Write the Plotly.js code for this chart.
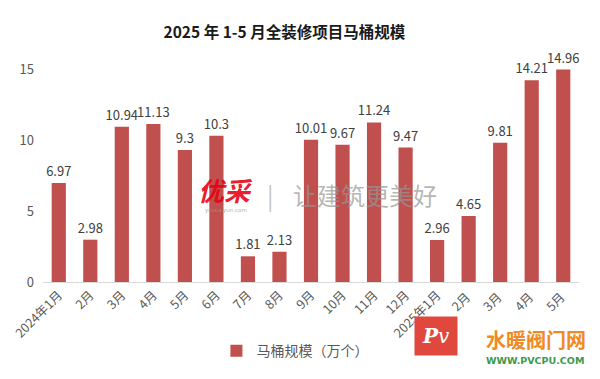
<!DOCTYPE html>
<html>
<head>
<meta charset="utf-8">
<script src="https://cdn.plot.ly/plotly-3.0.1.min.js"></script>
<style>html,body{margin:0;padding:0;background:#fff}#chart{width:600px;height:379px}</style>
</head>
<body>
<div id="chart"></div>
<script>
const categories = ["2024年1月","2月","3月","4月","5月","6月","7月","8月","9月","10月","11月","12月","2025年1月","2月 ","3月 ","4月 ","5月 "];
const values = [6.97, 2.98, 10.94, 11.13, 9.3, 10.3, 1.81, 2.13, 10.01, 9.67, 11.24, 9.47, 2.96, 4.65, 9.81, 14.21, 14.96];
const labels = ["6.97","2.98","10.94","11.13","9.3","10.3","1.81","2.13","10.01","9.67","11.24","9.47","2.96","4.65","9.81","14.21","14.96"];
const seriesName = "马桶规模（万个）";
const yTicks = [0, 5, 10, 15];

const font = '"Noto Sans CJK SC", "Open Sans", sans-serif';
const trace = {
  type: 'bar',
  x: categories,
  y: values,
  name: seriesName,
  text: labels,
  textposition: 'outside',
  constraintext: 'none',
  textfont: {family: font, size: 13, color: '#404040'},
  cliponaxis: false,
  marker: {color: '#c0504d'},
  hoverinfo: 'none'
};
const layout = {
  width: 600, height: 379,
  margin: {l: 43, r: 21, t: 69, b: 94},
  paper_bgcolor: '#fff', plot_bgcolor: '#fff',
  bargap: 0.55,
  title: {text: '2025 年 1-5 月全装修项目马桶规模', x: 0.474, xanchor: 'center', y: 0.913, yanchor: 'middle',
          font: {family: font, size: 15.5, color: '#1a1a1a', weight: 'bold'}},
  xaxis: {type: 'category', tickangle: -45, tickfont: {family: font, size: 12.5, color: '#595959'},
          showgrid: false, showline: true, linecolor: '#d9d9d9', linewidth: 1, ticks: '', fixedrange: true},
  yaxis: {range: [0, 15], tickvals: yTicks, tickfont: {family: font, size: 13, color: '#595959'},
          showgrid: false, zeroline: false, showline: false, ticks: '', ticklabelstandoff: 8, fixedrange: true},
  showlegend: true,
  legend: {orientation: 'h', x: 0.47, xanchor: 'center', y: -0.25, yanchor: 'top', bgcolor: 'rgba(0,0,0,0)',
           font: {family: font, size: 14, color: '#595959'}, itemwidth: 30},
  annotations: [
    {xref: 'paper', yref: 'paper', x: 0.341, y: 0.435, text: '<b><i>优采</i></b>', showarrow: false,
     font: {family: font, size: 26, color: 'rgba(230,0,18,0.9)'}},
    {xref: 'paper', yref: 'paper', x: 0.341, y: 0.31, text: 'youcaiyun.com', showarrow: false,
     font: {family: 'DejaVu Sans, sans-serif', size: 5.5, color: 'rgba(150,150,150,0.8)'}},
    {xref: 'paper', yref: 'paper', x: 0.424, y: 0.41, text: '|', showarrow: false,
     font: {family: font, size: 24, color: 'rgba(170,170,170,0.7)'}},
    {xref: 'paper', yref: 'paper', x: 0.6, y: 0.41, text: '让建筑更美好', showarrow: false,
     font: {family: font, size: 24, color: 'rgba(150,150,150,0.7)'}},
    {xref: 'paper', yref: 'paper', x: 0.822, y: -0.272, xanchor: 'left', yanchor: 'middle', text: '<b>水暖阀门网</b>', showarrow: false,
     font: {family: font, size: 20, color: '#f08a24'}},
    {xref: 'paper', yref: 'paper', x: 0.822, y: -0.37, xanchor: 'left', yanchor: 'middle', text: '<b>WWW.PVCPU.COM</b>', showarrow: false,
     font: {family: 'DejaVu Sans, sans-serif', size: 9.5, color: '#3a9a4a'}},
    {xref: 'paper', yref: 'paper', x: 0.775, y: -0.347, text: '<b><i>P</i></b><i>v</i>', showarrow: false,
     bgcolor: '#e0483e', borderpad: 7, font: {family: 'DejaVu Serif, serif', size: 20, color: '#ffffff'}}
  ]
};
Plotly.newPlot('chart', [trace], layout, {displayModeBar: false, staticPlot: true});
</script>
</body>
</html>
